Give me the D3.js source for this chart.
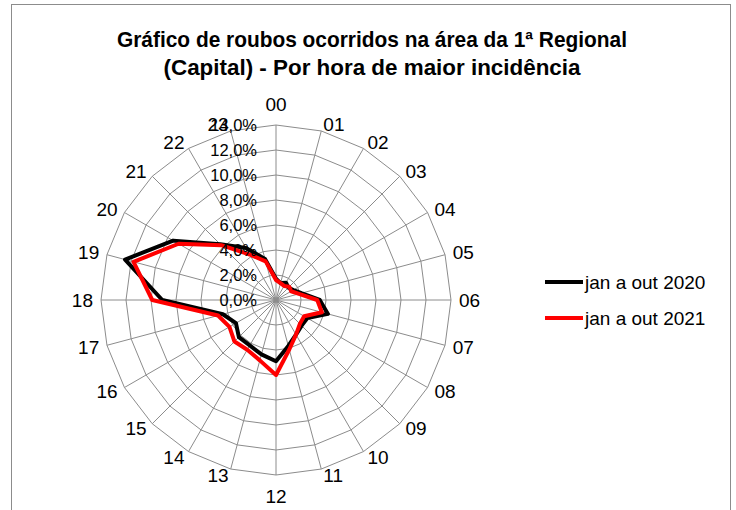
<!DOCTYPE html>
<html>
<head>
<meta charset="utf-8">
<script src="https://cdn.jsdelivr.net/npm/d3@7"></script>
<style>
  body { margin: 0; background: #fff; }
  text { font-family: "Liberation Sans", Arial, sans-serif; fill: #000; }
</style>
</head>
<body>
<div id="canvas"></div>
<script>
// data
const hours = ['00','01','02','03','04','05','06','07','08','09','10','11',
               '12','13','14','15','16','17','18','19','20','21','22','23'];
const seriesNames = ['jan a out 2020', 'jan a out 2021'];
const values2020 = [1.7, 1.4, 1.6, 1.4, 1.6, 2.1, 3.5, 4.3, 2.9, 2.9, 3.2, 3.8,
                    4.9, 4.5, 4.2, 4.2, 3.7, 4.4, 9.1, 12.5, 9.5, 6.3, 4.8, 3.4];
const values2021 = [1.6, 1.4, 1.3, 1.5, 1.4, 1.9, 3.3, 3.8, 2.6, 2.7, 3.2, 4.1,
                    6.0, 5.0, 4.6, 4.7, 4.3, 4.8, 9.9, 11.8, 9.0, 6.2, 4.2, 3.2];
const tickValues = [0, 2, 4, 6, 8, 10, 12, 14];
const titleLines = ['Gráfico de roubos ocorridos na área da 1ª Regional',
                    '(Capital) - Por hora de maior incidência'];

// constants
const width = 736;
const height = 510;
const cx = 276;
const cy = 300;
const radius = 175;
const colors = ['#000000', '#ff0000'];

const svg = d3.select('#canvas')
    .append('svg').attr('width', width).attr('height', height);

// chart frame
svg.append('rect')
    .attr('x', 11.5).attr('y', 4.5)
    .attr('width', 719).attr('height', 530)
    .attr('fill', 'none')
    .attr('stroke', '#8c8c8c')
    .attr('stroke-width', 1);

// title
svg.selectAll('.title')
    .data(titleLines)
    .join('text')
    .attr('class', 'title')
    .attr('x', 372)
    .attr('y', (d, i) => 47 + i * 28)
    .attr('text-anchor', 'middle')
    .attr('font-size', 22)
    .attr('font-weight', 'bold')
    .attr('textLength', (d, i) => [510, 417][i])
    .attr('lengthAdjust', 'spacingAndGlyphs')
    .text(d => d);

// scales
const r = d3.scaleLinear().domain([0, 14]).range([0, radius]);
const angle = d3.scaleLinear().domain([0, hours.length]).range([0, Math.PI * 2]);

const g = svg.append('g').attr('transform', `translate(${cx},${cy})`);

// rings (polygons)
const ringLine = d3.lineRadial()
    .angle((d, i) => angle(i))
    .radius(d => r(d))
    .curve(d3.curveLinearClosed);

g.selectAll('.ring')
    .data(tickValues.slice(1))
    .join('path')
    .attr('class', 'ring')
    .attr('d', v => ringLine(hours.map(() => v)))
    .attr('fill', 'none')
    .attr('stroke', '#8c8c8c')
    .attr('stroke-width', 1);

// spokes
g.selectAll('.spoke')
    .data(hours)
    .join('line')
    .attr('class', 'spoke')
    .attr('x1', 0).attr('y1', 0)
    .attr('x2', (d, i) => r(14) * Math.sin(angle(i)))
    .attr('y2', (d, i) => -r(14) * Math.cos(angle(i)))
    .attr('stroke', '#8c8c8c')
    .attr('stroke-width', 1);

// category labels
g.selectAll('.hour')
    .data(hours)
    .join('text')
    .attr('class', 'hour')
    .attr('font-size', 19)
    .attr('dominant-baseline', 'central')
    .each(function (d, i) {
        const a = angle(i);
        const s = Math.sin(a), c = Math.cos(a);
        const ex = r(14) * s, ey = -r(14) * c;
        const t = d3.select(this);
        if (Math.abs(s) < 0.01) {
            t.attr('x', ex).attr('y', ey - c * 21).attr('text-anchor', 'middle');
        } else {
            t.attr('x', ex + 8 * s)
             .attr('y', ey - 7 * c)
             .attr('text-anchor', s > 0 ? 'start' : 'end');
        }
    })
    .text(d => d);

// series
const seriesLine = d3.lineRadial()
    .angle((d, i) => angle(i))
    .radius(d => r(d))
    .curve(d3.curveLinearClosed);

g.selectAll('.series')
    .data([values2020, values2021])
    .join('path')
    .attr('class', 'series')
    .attr('d', d => seriesLine(d))
    .attr('fill', 'none')
    .attr('stroke', (d, i) => colors[i])
    .attr('stroke-width', 4)
    .attr('stroke-linejoin', 'round');

// radial axis labels
const ptBR = d3.formatLocale({ decimal: ',', thousands: '.', grouping: [3], currency: ['R$', ''] });
const fmt = ptBR.format('.1f');
g.selectAll('.tick')
    .data(tickValues)
    .join('text')
    .attr('class', 'tick')
    .attr('x', -19)
    .attr('y', d => -r(d))
    .attr('text-anchor', 'end')
    .attr('dominant-baseline', 'central')
    .attr('font-size', 16.5)
    .text(d => fmt(d) + '%');

// legend
const legend = svg.append('g').attr('transform', 'translate(545,282)');
const items = legend.selectAll('g')
    .data(seriesNames)
    .join('g')
    .attr('transform', (d, i) => `translate(0,${i * 36})`);
items.append('line')
    .attr('x1', 0).attr('x2', 38)
    .attr('y1', 0).attr('y2', 0)
    .attr('stroke', (d, i) => colors[i])
    .attr('stroke-width', 4);
items.append('text')
    .attr('x', 40)
    .attr('y', 0)
    .attr('dominant-baseline', 'central')
    .attr('font-size', 19)
    .text(d => d);
</script>
</body>
</html>
